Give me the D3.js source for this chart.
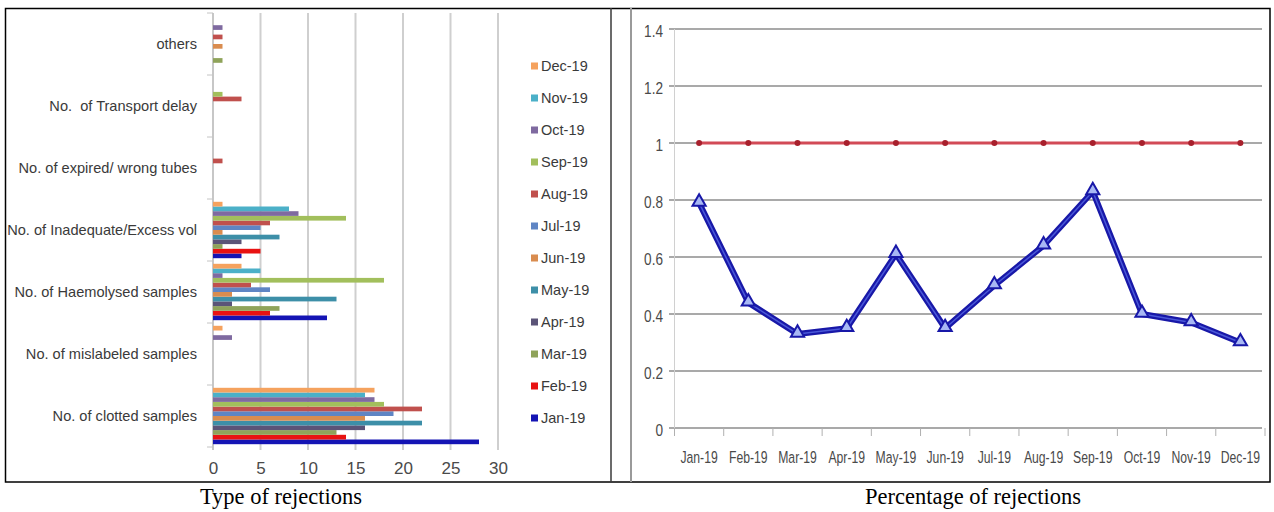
<!DOCTYPE html>
<html>
<head>
<meta charset="utf-8">
<script src="https://cdn.jsdelivr.net/npm/d3@7"></script>
<style>
  html, body { margin: 0; padding: 0; background: #ffffff; }
  svg { display: block; }
</style>
</head>
<body>
<svg id="chart" width="1274" height="512"></svg>
<script>
// ---------- DATA ----------
// categories listed from bottom to top of the left chart
const categories = [
  "No. of clotted samples",
  "No. of mislabeled samples",
  "No. of Haemolysed samples",
  "No. of Inadequate/Excess vol",
  "No. of expired/ wrong tubes",
  "No.  of Transport delay",
  "others"
];
const months = ["Jan-19","Feb-19","Mar-19","Apr-19","May-19","Jun-19","Jul-19","Aug-19","Sep-19","Oct-19","Nov-19","Dec-19"];

// values per month, in the order of `categories`
const jan19 = [28, 0, 12, 3, 0, 0, 0];
const feb19 = [14, 0, 6, 5, 0, 0, 0];
const mar19 = [13, 0, 7, 1, 0, 0, 1];
const apr19 = [16, 0, 2, 3, 0, 0, 0];
const may19 = [22, 0, 13, 7, 0, 0, 0];
const jun19 = [16, 0, 2, 1, 0, 0, 1];
const jul19 = [19, 0, 6, 5, 0, 0, 0];
const aug19 = [22, 0, 4, 6, 1, 3, 1];
const sep19 = [18, 0, 18, 14, 0, 1, 0];
const oct19 = [17, 2, 1, 9, 0, 0, 1];
const nov19 = [16, 0, 5, 8, 0, 0, 0];
const dec19 = [17, 1, 3, 1, 0, 0, 0];
const monthSeries = [jan19, feb19, mar19, apr19, may19, jun19, jul19, aug19, sep19, oct19, nov19, dec19];

const xTicksLeft = [0, 5, 10, 15, 20, 25, 30];

// right chart
const rejectionPct = [0.79, 0.44, 0.33, 0.35, 0.61, 0.35, 0.50, 0.64, 0.83, 0.40, 0.37, 0.30];
const targetPct    = [1, 1, 1, 1, 1, 1, 1, 1, 1, 1, 1, 1];
const yTicksRight = [0, 0.2, 0.4, 0.6, 0.8, 1, 1.2, 1.4];

const captions = ["Type of rejections", "Percentage of rejections"];

// ---------- STYLE ----------
const monthColors = ["#1414b4","#e81212","#8fa35a","#5b5478","#3d8fa8","#d98c4f",
                     "#5f85c4","#c0504d","#a2bf5c","#7f6aa0","#4bb0c8","#f5a25e"];
const sans = "'Liberation Sans', Arial, sans-serif";
const serif = "'Liberation Serif', 'Times New Roman', serif";
const textCol = "#3a3a3a";

const svg = d3.select("#chart");

// ---------- LEFT CHART ----------
const xL = d3.scaleLinear().domain([0, 30]).range([213, 498]);
const yCat = d3.scaleBand().domain(categories).range([447, 13]);
const yMonth = d3.scaleBand().domain(months).range([yCat.bandwidth() - 2.8, 2.8]);

const left = svg.append("g");

// gridlines
left.selectAll("line.grid").data(xTicksLeft.slice(1)).join("line")
  .attr("x1", d => xL(d)).attr("x2", d => xL(d))
  .attr("y1", 13).attr("y2", 450)
  .attr("stroke", "#cfcfcf").attr("stroke-width", 2);

// vertical category axis
left.append("line").attr("x1", xL(0)).attr("x2", xL(0)).attr("y1", 13).attr("y2", 450)
  .attr("stroke", "#b4b4b4").attr("stroke-width", 1.5);
const bounds = categories.map(c => yCat(c)).concat([yCat(categories[0]) + yCat.bandwidth()]);
left.selectAll("line.ctick").data(bounds).join("line")
  .attr("x1", xL(0) - 6).attr("x2", xL(0))
  .attr("y1", d => d).attr("y2", d => d)
  .attr("stroke", "#c4c4c4").attr("stroke-width", 1);

// bars
const groups = left.selectAll("g.cat").data(categories).join("g")
  .attr("transform", c => `translate(0,${yCat(c)})`);
groups.each(function(c, ci) {
  d3.select(this).selectAll("rect").data(months).join("rect")
    .attr("x", xL(0))
    .attr("y", m => yMonth(m))
    .attr("height", yMonth.bandwidth())
    .attr("width", (m, mi) => xL(monthSeries[mi][ci]) - xL(0))
    .attr("fill", (m, mi) => monthColors[mi]);
});

// category labels
left.selectAll("text.cat").data(categories).join("text")
  .attr("x", 197)
  .attr("y", c => yCat(c) + yCat.bandwidth() / 2 + 5)
  .attr("text-anchor", "end")
  .attr("font-family", sans).attr("font-size", 14.6)
  .attr("fill", textCol)
  .style("white-space", "pre")
  .text(c => c);

// x axis labels
const axL = left.append("g").attr("transform", "translate(0,459)")
  .call(d3.axisBottom(xL).tickValues(xTicksLeft).tickSize(0).tickFormat(d3.format("d")));
axL.select(".domain").remove();
axL.selectAll("text").attr("font-family", sans).attr("font-size", 17).attr("fill", "#4a4a4a");

// legend (Dec at top)
const legendMonths = months.slice().reverse();
const lg = left.selectAll("g.leg").data(legendMonths).join("g")
  .attr("transform", (m, i) => `translate(531,${66 + i * 32})`);
lg.append("rect").attr("x", 0).attr("y", -3.5).attr("width", 7).attr("height", 7)
  .attr("fill", m => monthColors[months.indexOf(m)]);
lg.append("text").attr("x", 10).attr("y", 5)
  .attr("font-family", sans).attr("font-size", 14.5).attr("fill", textCol)
  .text(m => m);

// ---------- RIGHT CHART ----------
const xR = d3.scaleBand().domain(months).range([674.5, 1265]);
const yR = d3.scaleLinear().domain([0, 1.4]).range([428, 29]);
const right = svg.append("g");

right.selectAll("line.grid").data(yTicksRight).join("line")
  .attr("x1", 669).attr("x2", 1262)
  .attr("y1", d => yR(d)).attr("y2", d => yR(d))
  .attr("stroke", "#a9a9a9").attr("stroke-width", 2);
right.append("line").attr("x1", 674.5).attr("x2", 674.5).attr("y1", 29).attr("y2", 428)
  .attr("stroke", "#d0d0d0").attr("stroke-width", 1);
const xb = months.map(m => xR(m)).concat([xR(months[11]) + xR.bandwidth()]);
right.selectAll("line.xtick").data(xb).join("line")
  .attr("x1", d => d).attr("x2", d => d).attr("y1", 428).attr("y2", 436)
  .attr("stroke", "#b0b0b0").attr("stroke-width", 1);

// y labels
const axR = right.append("g").attr("transform", "translate(663,0)")
  .call(d3.axisLeft(yR).tickValues(yTicksRight).tickSize(0).tickPadding(0)
        .tickFormat(d => String(+d.toFixed(1))));
axR.select(".domain").remove();
axR.selectAll("text").attr("font-family", sans).attr("font-size", 16).attr("fill", "#4a4a4a")
  .attr("dy", "0.45em")
  .attr("transform", "scale(0.85,1)");

// x labels
const axX = right.append("g").attr("transform", "translate(0,451)")
  .call(d3.axisBottom(xR).tickSize(0).tickPadding(0));
axX.select(".domain").remove();
axX.selectAll(".tick text").attr("font-family", sans).attr("font-size", 16.5).attr("fill", "#4a4a4a")
  .attr("transform", "scale(0.74,1)").attr("x", 0);

const cx = m => xR(m) + xR.bandwidth() / 2;

// target line
const lineT = d3.line().x((d, i) => cx(months[i])).y(d => yR(d));
right.append("path").datum(targetPct).attr("d", lineT)
  .attr("fill", "none").attr("stroke", "#d24a56").attr("stroke-width", 3);
right.selectAll("circle.t").data(targetPct).join("circle")
  .attr("cx", (d, i) => cx(months[i])).attr("cy", d => yR(d)).attr("r", 3)
  .attr("fill", "#a8202c");

// rejection line
const lineP = d3.line().x((d, i) => cx(months[i])).y(d => yR(d));
right.append("path").datum(rejectionPct).attr("d", lineP)
  .attr("fill", "none").attr("stroke", "#1818a8").attr("stroke-width", 6)
  .attr("stroke-linejoin", "round");
right.append("path").datum(rejectionPct).attr("d", lineP)
  .attr("fill", "none").attr("stroke", "#4a58d8").attr("stroke-width", 1.5)
  .attr("stroke-linejoin", "round");
right.selectAll("path.mk").data(rejectionPct).join("path")
  .attr("transform", (d, i) => `translate(${cx(months[i])},${yR(d) - 1})`)
  .attr("d", d3.symbol(d3.symbolTriangle, 75))
  .attr("fill", "#a8b8f4").attr("stroke", "#1818a8").attr("stroke-width", 2);

// ---------- FRAME & CAPTIONS ----------
svg.append("rect").attr("x", 5.5).attr("y", 8.5).attr("width", 1264.5).attr("height", 473.5)
  .attr("fill", "none").attr("stroke", "#000").attr("stroke-width", 1.5);
svg.append("line").attr("x1", 611).attr("x2", 611).attr("y1", 8).attr("y2", 482)
  .attr("stroke", "#3a3a3a").attr("stroke-width", 1.5);
svg.append("line").attr("x1", 631).attr("x2", 631).attr("y1", 8).attr("y2", 482)
  .attr("stroke", "#9a9a9a").attr("stroke-width", 2);

svg.selectAll("text.cap").data(captions).join("text")
  .attr("x", (d, i) => i === 0 ? 281 : 973)
  .attr("y", 504)
  .attr("text-anchor", "middle")
  .attr("font-family", serif).attr("font-size", 22.5).attr("fill", "#000")
  .text(d => d);
</script>
</body>
</html>
